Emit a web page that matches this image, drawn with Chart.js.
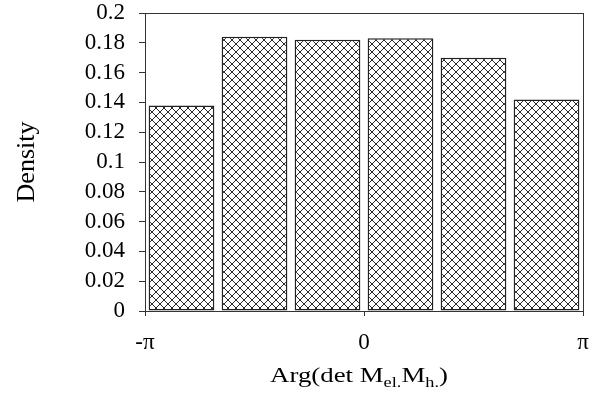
<!DOCTYPE html>
<html>
<head>
<meta charset="utf-8">
<script src="https://cdn.jsdelivr.net/npm/chart.js@4.4.0/dist/chart.umd.min.js"></script>
<style>
  body { margin: 0; background: #fff; }
  #wrap { width: 601px; height: 397px; }
</style>
</head>
<body>
<div id="wrap"><canvas id="myChart" width="601" height="397"></canvas></div>
<script>
// bins of Arg(det M_el. M_h.) over [-pi, pi]
var binCenters = [-5, -3, -1, 1, 3, 5].map(function (k) { return k * Math.PI / 6; });
var density = [0.138, 0.184, 0.182, 0.183, 0.170, 0.142];

var xTickValues = [-Math.PI, 0, Math.PI];
var xTickLabels = ['-\u03c0', '0', '\u03c0'];
var yMin = 0, yMax = 0.2, yStep = 0.02;

var axisColor = '#333';
var serif = '"Liberation Serif", "Times New Roman", serif';

function makeHatch() {
    var c = document.createElement('canvas');
    c.width = 8; c.height = 8;
    var g = c.getContext('2d');
    g.fillStyle = '#fff';
    g.fillRect(0, 0, 8, 8);
    g.strokeStyle = '#2a2a2a';
    g.lineWidth = 1;
    g.beginPath();
    g.moveTo(0, 0); g.lineTo(8, 8);
    g.moveTo(0, 8); g.lineTo(8, 0);
    g.stroke();
    return g.createPattern(c, 'repeat');
}

// box around plot + x title with subscripts
var framePlugin = {
    id: 'frame',
    afterDraw: function (chart) {
        var a = chart.chartArea;
        var ctx = chart.ctx;
        ctx.save();
        ctx.strokeStyle = axisColor;
        ctx.lineWidth = 1;
        ctx.strokeRect(Math.round(a.left) + 0.5, Math.round(a.top) + 0.5,
            Math.round(a.right - a.left), Math.round(a.bottom - a.top));

        var parts = [
            ['Arg(det M', 22, 0],
            ['el.', 15, 5],
            ['M', 22, 0],
            ['h.', 15, 5],
            [')', 22, 0]
        ];
        var sx = 1.22;
        var w = 0;
        parts.forEach(function (p) {
            ctx.font = p[1] + 'px ' + serif;
            w += ctx.measureText(p[0]).width;
        });
        ctx.translate(359, 382);
        ctx.scale(sx, 1);
        var x = -w / 2;
        ctx.fillStyle = '#000';
        ctx.textBaseline = 'alphabetic';
        parts.forEach(function (p) {
            ctx.font = p[1] + 'px ' + serif;
            ctx.fillText(p[0], x, p[2]);
            x += ctx.measureText(p[0]).width;
        });
        ctx.restore();
    }
};

var ctx = document.getElementById('myChart');
var hatch = makeHatch();

new Chart(ctx, {
    type: 'bar',
    data: {
        datasets: [{
            label: 'Density',
            data: binCenters.map(function (c, i) { return { x: c, y: density[i] }; }),
            backgroundColor: hatch,
            borderColor: '#222',
            borderWidth: 1.5,
            borderSkipped: false,
            barPercentage: 0.9,
            categoryPercentage: 1
        }]
    },
    options: {
        responsive: false,
        animation: false,
        layout: { padding: { left: 0, right: 18, top: 13, bottom: 0 } },
        plugins: { legend: { display: false }, tooltip: { enabled: false } },
        scales: {
            x: {
                type: 'linear',
                min: -Math.PI,
                max: Math.PI,
                offset: false,
                grid: { offset: false, drawOnChartArea: false, drawTicks: true, tickLength: 5, color: axisColor },
                border: { display: true, color: axisColor, width: 1 },
                afterBuildTicks: function (scale) {
                    scale.ticks = xTickValues.map(function (v) { return { value: v }; });
                },
                afterFit: function (scale) {
                    scale.height = 86;
                    scale.paddingLeft = 0;
                    scale.paddingRight = 0;
                },
                ticks: {
                    autoSkip: false,
                    maxRotation: 0,
                    padding: 13,
                    color: '#000',
                    font: { family: serif, size: 23 },
                    callback: function (v, i) { return xTickLabels[i]; }
                }
            },
            y: {
                min: yMin,
                max: yMax,
                grid: { drawOnChartArea: false, drawTicks: true, tickLength: 6, color: axisColor },
                border: { display: true, color: axisColor, width: 1 },
                afterFit: function (scale) {
                    scale.width = 145;
                    scale.paddingTop = 0;
                    scale.paddingBottom = 0;
                },
                ticks: {
                    autoSkip: false,
                    stepSize: yStep,
                    padding: 14,
                    color: '#000',
                    font: { family: serif, size: 23 },
                    callback: function (v) { return String(Number(v.toFixed(2))); }
                },
                title: {
                    display: true,
                    text: 'Density',
                    color: '#000',
                    font: { family: serif, size: 26 },
                    padding: { top: 12, bottom: 0 }
                }
            }
        }
    },
    plugins: [framePlugin]
});
</script>
</body>
</html>
